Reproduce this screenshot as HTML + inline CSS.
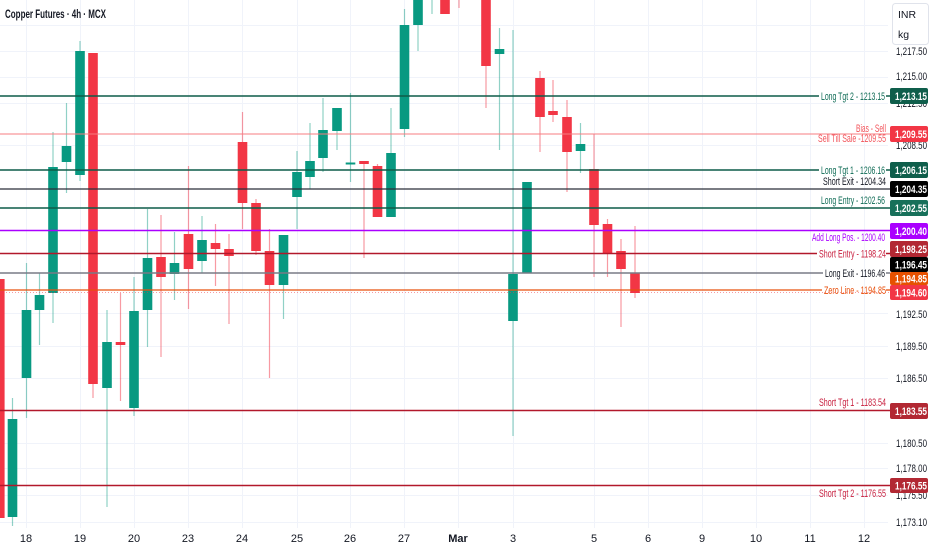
<!DOCTYPE html>
<html><head><meta charset="utf-8"><style>
html,body{margin:0;padding:0;background:#fff;}
svg{display:block;}
</style></head><body>
<svg width="932" height="550" viewBox="0 0 932 550" xmlns="http://www.w3.org/2000/svg" font-family="'Liberation Sans', sans-serif">
<rect width="932" height="550" fill="#fff"/>
<!-- grid -->
<g stroke="#f0f3fa" stroke-width="1">
<line x1="0" y1="25.5" x2="888" y2="25.5"/><line x1="0" y1="51.5" x2="888" y2="51.5"/><line x1="0" y1="77.5" x2="888" y2="77.5"/><line x1="0" y1="103.5" x2="888" y2="103.5"/><line x1="0" y1="145.5" x2="888" y2="145.5"/><line x1="0" y1="313.5" x2="888" y2="313.5"/><line x1="0" y1="346.5" x2="888" y2="346.5"/><line x1="0" y1="378.5" x2="888" y2="378.5"/><line x1="0" y1="443.5" x2="888" y2="443.5"/><line x1="0" y1="468.5" x2="888" y2="468.5"/><line x1="0" y1="495.5" x2="888" y2="495.5"/><line x1="0" y1="522.5" x2="888" y2="522.5"/>
<line x1="26.5" y1="0" x2="26.5" y2="528"/><line x1="80.5" y1="0" x2="80.5" y2="528"/><line x1="134.5" y1="0" x2="134.5" y2="528"/><line x1="188.5" y1="0" x2="188.5" y2="528"/><line x1="242.5" y1="0" x2="242.5" y2="528"/><line x1="297.5" y1="0" x2="297.5" y2="528"/><line x1="350.5" y1="0" x2="350.5" y2="528"/><line x1="404.5" y1="0" x2="404.5" y2="528"/><line x1="458.5" y1="0" x2="458.5" y2="528"/><line x1="513.5" y1="0" x2="513.5" y2="528"/><line x1="594.5" y1="0" x2="594.5" y2="528"/><line x1="648.5" y1="0" x2="648.5" y2="528"/><line x1="702.5" y1="0" x2="702.5" y2="528"/><line x1="756.5" y1="0" x2="756.5" y2="528"/><line x1="810.5" y1="0" x2="810.5" y2="528"/><line x1="864.5" y1="0" x2="864.5" y2="528"/>
</g>
<!-- wicks -->
<g stroke-width="1.2">
<g stroke="#089981" stroke-opacity="0.45">
<line x1="12.5" y1="398" x2="12.5" y2="526"/>
<line x1="26.5" y1="263" x2="26.5" y2="418"/>
<line x1="39.5" y1="273" x2="39.5" y2="345"/>
<line x1="53" y1="132" x2="53" y2="323"/>
<line x1="66.5" y1="103" x2="66.5" y2="193"/>
<line x1="80" y1="41" x2="80" y2="181"/>
<line x1="107" y1="310" x2="107" y2="507"/>
<line x1="134" y1="277" x2="134" y2="416"/>
<line x1="147.5" y1="209" x2="147.5" y2="347"/>
<line x1="174.5" y1="232" x2="174.5" y2="300"/>
<line x1="202" y1="216" x2="202" y2="273"/>
<line x1="283.5" y1="235" x2="283.5" y2="319"/>
<line x1="297" y1="151" x2="297" y2="229"/>
<line x1="310" y1="123" x2="310" y2="189"/>
<line x1="323" y1="98" x2="323" y2="172"/>
<line x1="337" y1="108" x2="337" y2="150"/>
<line x1="350.5" y1="93" x2="350.5" y2="182"/>
<line x1="391" y1="108" x2="391" y2="217"/>
<line x1="404.5" y1="9" x2="404.5" y2="137"/>
<line x1="418" y1="0" x2="418" y2="51"/>
<line x1="432" y1="0" x2="432" y2="14"/>
<line x1="499.5" y1="28" x2="499.5" y2="150"/>
<line x1="513" y1="30" x2="513" y2="436"/>
<line x1="580.5" y1="123" x2="580.5" y2="173"/>
</g>
<g stroke="#f23645" stroke-opacity="0.5">
<line x1="93" y1="53" x2="93" y2="398"/>
<line x1="120.5" y1="293" x2="120.5" y2="401"/>
<line x1="161" y1="215" x2="161" y2="357"/>
<line x1="188.5" y1="166" x2="188.5" y2="309"/>
<line x1="215.5" y1="224" x2="215.5" y2="286"/>
<line x1="229" y1="234" x2="229" y2="324"/>
<line x1="242.5" y1="112" x2="242.5" y2="229"/>
<line x1="256" y1="199" x2="256" y2="255"/>
<line x1="269.5" y1="229" x2="269.5" y2="378"/>
<line x1="364" y1="161" x2="364" y2="258"/>
<line x1="377.5" y1="164" x2="377.5" y2="217"/>
<line x1="459" y1="0" x2="459" y2="8"/>
<line x1="486" y1="0" x2="486" y2="108"/>
<line x1="540" y1="71" x2="540" y2="152"/>
<line x1="553" y1="80" x2="553" y2="122"/>
<line x1="567" y1="100" x2="567" y2="192"/>
<line x1="594" y1="134" x2="594" y2="277"/>
<line x1="607.5" y1="219" x2="607.5" y2="277"/>
<line x1="621" y1="239" x2="621" y2="327"/>
<line x1="635" y1="226" x2="635" y2="298"/>
</g>
</g>
<!-- bodies -->
<g fill="#089981">
<rect x="7.7" y="419" width="9.6" height="98"/>
<rect x="21.7" y="310" width="9.6" height="68"/>
<rect x="34.7" y="295" width="9.6" height="15"/>
<rect x="48.2" y="167" width="9.6" height="126"/>
<rect x="61.7" y="146" width="9.6" height="16"/>
<rect x="75.2" y="51" width="9.6" height="124"/>
<rect x="102.2" y="342" width="9.6" height="46"/>
<rect x="129.2" y="311" width="9.6" height="97"/>
<rect x="142.7" y="258" width="9.6" height="52"/>
<rect x="169.7" y="263" width="9.6" height="11"/>
<rect x="197.2" y="240" width="9.6" height="21"/>
<rect x="278.7" y="235" width="9.6" height="50"/>
<rect x="292.2" y="172" width="9.6" height="25"/>
<rect x="305.2" y="161" width="9.6" height="16"/>
<rect x="318.2" y="130" width="9.6" height="28"/>
<rect x="332.2" y="108" width="9.6" height="23"/>
<rect x="345.7" y="162.5" width="9.6" height="2"/>
<rect x="386.2" y="153" width="9.6" height="64"/>
<rect x="399.7" y="25" width="9.6" height="104"/>
<rect x="413.2" y="-5" width="9.6" height="30"/>
<rect x="494.7" y="49" width="9.6" height="5"/>
<rect x="508.2" y="274" width="9.6" height="47"/>
<rect x="522.2" y="182" width="9.6" height="91"/>
<rect x="575.7" y="144" width="9.6" height="7"/>
</g>
<g fill="#f23645">
<rect x="-5" y="279" width="9.6" height="239"/>
<rect x="88.2" y="53" width="9.6" height="331"/>
<rect x="115.7" y="342" width="9.6" height="3"/>
<rect x="156.2" y="257" width="9.6" height="20"/>
<rect x="183.7" y="234" width="9.6" height="35"/>
<rect x="210.7" y="243" width="9.6" height="6"/>
<rect x="224.2" y="249" width="9.6" height="7"/>
<rect x="237.7" y="142" width="9.6" height="61"/>
<rect x="251.2" y="203" width="9.6" height="48"/>
<rect x="264.7" y="251" width="9.6" height="34"/>
<rect x="359.2" y="161" width="9.6" height="3"/>
<rect x="372.7" y="166" width="9.6" height="51"/>
<rect x="440.2" y="-5" width="9.6" height="19"/>
<rect x="481.2" y="-5" width="9.6" height="71"/>
<rect x="535.2" y="78" width="9.6" height="39"/>
<rect x="548.2" y="111" width="9.6" height="4"/>
<rect x="562.2" y="117" width="9.6" height="35"/>
<rect x="589.2" y="169" width="9.6" height="56"/>
<rect x="602.7" y="224" width="9.6" height="29"/>
<rect x="616.2" y="251" width="9.6" height="18"/>
<rect x="630.2" y="273" width="9.6" height="20"/>
</g>
<!-- horizontal level lines -->
<g fill="none">
<line x1="0" y1="96" x2="819" y2="96" stroke="#0d5c48" stroke-width="1.5"/>
<line x1="886" y1="96" x2="890" y2="96" stroke="#0d5c48" stroke-width="1.5"/>
<line x1="0" y1="134" x2="890" y2="134" stroke="#f77c80" stroke-width="1"/>
<line x1="0" y1="170" x2="819" y2="170" stroke="#0d5c48" stroke-width="1.5"/>
<line x1="886" y1="170" x2="890" y2="170" stroke="#0d5c48" stroke-width="1.5"/>
<line x1="0" y1="189" x2="890" y2="189" stroke="#2a2e39" stroke-width="1.2"/>
<line x1="0" y1="208" x2="890" y2="208" stroke="#0d5c48" stroke-width="1.5"/>
<line x1="0" y1="230.5" x2="890" y2="230.5" stroke="#aa00ff" stroke-width="1.5"/>
<line x1="0" y1="253.5" x2="817" y2="253.5" stroke="#b2182b" stroke-width="1.5"/>
<line x1="886" y1="253.5" x2="890" y2="253.5" stroke="#b2182b" stroke-width="1.5"/>
<line x1="0" y1="273" x2="823" y2="273" stroke="#787b86" stroke-width="1.5"/>
<line x1="886" y1="273" x2="890" y2="273" stroke="#787b86" stroke-width="1.5"/>
<line x1="0" y1="290" x2="822" y2="290" stroke="#e8500c" stroke-width="1.3"/>
<line x1="886" y1="290" x2="890" y2="290" stroke="#e8500c" stroke-width="1.3"/>
<line x1="0" y1="292.5" x2="890" y2="292.5" stroke="#f23645" stroke-width="1" stroke-dasharray="1 2" stroke-opacity="0.5"/>
<line x1="0" y1="410.5" x2="890" y2="410.5" stroke="#b2182b" stroke-width="1.5"/>
<line x1="0" y1="485.5" x2="890" y2="485.5" stroke="#b2182b" stroke-width="1.5"/>
</g>
<!-- level texts -->
<g font-size="11" text-anchor="end">
<text x="885" y="100" fill="#0e6b55" textLength="64" lengthAdjust="spacingAndGlyphs">Long Tgt 2 - 1213.15</text>
<text x="886" y="132" fill="#f2545b" textLength="30" lengthAdjust="spacingAndGlyphs">Bias - Sell</text>
<text x="886" y="142" fill="#f2545b" textLength="68" lengthAdjust="spacingAndGlyphs">Sell Till Sale -1209.55</text>
<text x="885" y="174" fill="#0e6b55" textLength="64" lengthAdjust="spacingAndGlyphs">Long Tgt 1 - 1206.16</text>
<text x="886" y="185" fill="#131722" textLength="63" lengthAdjust="spacingAndGlyphs">Short Exit - 1204.34</text>
<text x="885" y="204" fill="#0e6b55" textLength="64" lengthAdjust="spacingAndGlyphs">Long Entry - 1202.56</text>
<text x="885" y="241" fill="#aa00ff" textLength="73" lengthAdjust="spacingAndGlyphs">Add Long Pos. - 1200.40</text>
<text x="886" y="257.5" fill="#c8203f" textLength="67" lengthAdjust="spacingAndGlyphs">Short Entry - 1198.24</text>
<text x="885" y="277" fill="#131722" textLength="60" lengthAdjust="spacingAndGlyphs">Long Exit - 1196.46</text>
<text x="886" y="294" fill="#e8500c" textLength="62" lengthAdjust="spacingAndGlyphs">Zero Line - 1194.85</text>
<text x="886" y="406" fill="#c8203f" textLength="67" lengthAdjust="spacingAndGlyphs">Short Tgt 1 - 1183.54</text>
<text x="886" y="497" fill="#c8203f" textLength="67" lengthAdjust="spacingAndGlyphs">Short Tgt 2 - 1176.55</text>
</g>
<!-- price axis ticks -->
<g font-size="11" fill="#131722">
<text x="896" y="55" textLength="31" lengthAdjust="spacingAndGlyphs">1,217.50</text>
<text x="896" y="80" textLength="31" lengthAdjust="spacingAndGlyphs">1,215.00</text>
<text x="896" y="107" textLength="31" lengthAdjust="spacingAndGlyphs">1,212.50</text>
<text x="896" y="149" textLength="31" lengthAdjust="spacingAndGlyphs">1,208.50</text>
<text x="896" y="318" textLength="31" lengthAdjust="spacingAndGlyphs">1,192.50</text>
<text x="896" y="350" textLength="31" lengthAdjust="spacingAndGlyphs">1,189.50</text>
<text x="896" y="382" textLength="31" lengthAdjust="spacingAndGlyphs">1,186.50</text>
<text x="896" y="447" textLength="31" lengthAdjust="spacingAndGlyphs">1,180.50</text>
<text x="896" y="472" textLength="31" lengthAdjust="spacingAndGlyphs">1,178.00</text>
<text x="896" y="499" textLength="31" lengthAdjust="spacingAndGlyphs">1,175.50</text>
<text x="896" y="526" textLength="31" lengthAdjust="spacingAndGlyphs">1,173.10</text>
</g>
<!-- INR box -->
<rect x="892.5" y="3.5" width="36" height="41" rx="3" fill="#fff" stroke="#e0e3eb"/>
<text x="898" y="18" font-size="10.5" fill="#131722">INR</text>
<text x="898" y="38" font-size="10.5" fill="#131722">kg</text>
<!-- price labels -->
<g font-size="11" fill="#fff" font-weight="600">
<rect x="890" y="88" width="38" height="16" rx="2" fill="#0f5e4b"/><text x="895" y="100" textLength="32" lengthAdjust="spacingAndGlyphs">1,213.15</text>
<rect x="890" y="126" width="38" height="16" rx="2" fill="#f23645"/><text x="895" y="138" textLength="32" lengthAdjust="spacingAndGlyphs">1,209.55</text>
<rect x="890" y="162" width="38" height="16" rx="2" fill="#0f5e4b"/><text x="895" y="174" textLength="32" lengthAdjust="spacingAndGlyphs">1,206.15</text>
<rect x="890" y="181" width="38" height="16" rx="2" fill="#000"/><text x="895" y="193" textLength="32" lengthAdjust="spacingAndGlyphs">1,204.35</text>
<rect x="890" y="200" width="38" height="16" rx="2" fill="#17705a"/><text x="895" y="212" textLength="32" lengthAdjust="spacingAndGlyphs">1,202.55</text>
<rect x="890" y="223" width="38" height="16" rx="2" fill="#aa00ff"/><text x="895" y="235" textLength="32" lengthAdjust="spacingAndGlyphs">1,200.40</text>
<rect x="890" y="241" width="38" height="16" rx="2" fill="#b22833"/><text x="895" y="253" textLength="32" lengthAdjust="spacingAndGlyphs">1,198.25</text>
<rect x="890" y="257" width="38" height="15" rx="2" fill="#000"/><text x="895" y="268.5" textLength="32" lengthAdjust="spacingAndGlyphs">1,196.45</text>
<rect x="890" y="272" width="38" height="13" rx="2" fill="#e65100"/><text x="895" y="282.5" textLength="32" lengthAdjust="spacingAndGlyphs">1,194.85</text>
<rect x="890" y="285" width="38" height="15" rx="2" fill="#f23645"/><text x="895" y="296.5" textLength="32" lengthAdjust="spacingAndGlyphs">1,194.60</text>
<rect x="890" y="403" width="38" height="16" rx="2" fill="#b22833"/><text x="895" y="415" textLength="32" lengthAdjust="spacingAndGlyphs">1,183.55</text>
<rect x="890" y="478" width="38" height="15" rx="2" fill="#b22833"/><text x="895" y="489.5" textLength="32" lengthAdjust="spacingAndGlyphs">1,176.55</text>
</g>
<!-- x axis labels -->
<g font-size="11" fill="#131722" text-anchor="middle">
<text x="26" y="542">18</text><text x="80" y="542">19</text><text x="134" y="542">20</text><text x="188" y="542">23</text><text x="242" y="542">24</text><text x="297" y="542">25</text><text x="350" y="542">26</text><text x="404" y="542">27</text><text x="458" y="542" font-weight="bold">Mar</text><text x="513" y="542">3</text><text x="594" y="542">5</text><text x="648" y="542">6</text><text x="702" y="542">9</text><text x="756" y="542">10</text><text x="810" y="542">11</text><text x="864" y="542">12</text>
</g>
<!-- title -->
<text x="5" y="18" font-size="11.5" font-weight="bold" fill="#131722" textLength="101" lengthAdjust="spacingAndGlyphs">Copper Futures · 4h · MCX</text>
</svg>
</body></html>
